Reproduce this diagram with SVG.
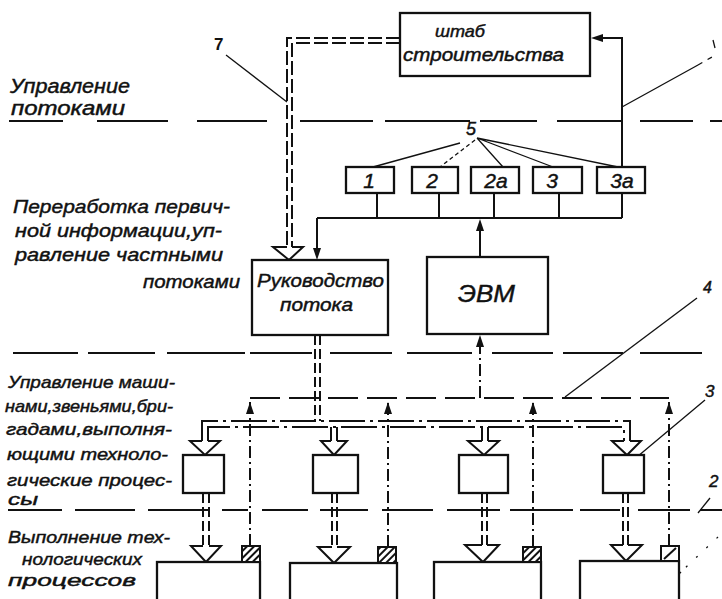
<svg xmlns="http://www.w3.org/2000/svg" xmlns:xlink="http://www.w3.org/1999/xlink" width="722" height="599" viewBox="0 0 722 599">
<style>
.t{font-family:"Liberation Sans","DejaVu Sans",sans-serif;font-style:italic;fill:#111;stroke:#111;stroke-width:0.45}
.box{fill:#fff;stroke:#111;stroke-width:2.3}
.ln{fill:none;stroke:#111;stroke-width:2}
.thin{fill:none;stroke:#111;stroke-width:1.3}
.sep{fill:none;stroke:#111;stroke-width:2.2}
.dd{stroke-dasharray:14 4}
.sig{stroke-dasharray:12 4 2 4}
.bus4{stroke-dasharray:30 9}
.dbus{stroke-dasharray:36 5 3 5}
.sh{stroke-dasharray:10 4}
.head{fill:#fff;stroke:#111;stroke-width:2;stroke-linejoin:miter}
.ah{fill:#111}
</style>
<defs>
<path id="ah" d="M0,0 L-4,12 L4,12 Z"/>
<pattern id="hatch" width="5" height="5" patternUnits="userSpaceOnUse" patternTransform="rotate(45)">
<rect width="5" height="5" fill="#fff"/>
<line x1="1" y1="0" x2="1" y2="5" stroke="#111" stroke-width="2"/>
</pattern>
</defs>
<rect width="722" height="599" fill="#fff"/>

<g id="separators">
<line class="sep" x1="9" y1="121" x2="722" y2="121" stroke-dasharray="54 34 71 29 70 33 73 12 85 10 57 20 66 17 53 17 20"/>
<line class="sep" x1="13" y1="353" x2="705" y2="353" stroke-dasharray="65 10 67 12 78 5 62 18 62 15 65 20 61 10 60 17 62"/>
<line class="sep" x1="8" y1="510" x2="722" y2="510" stroke-dasharray="54 13 60 13 62 12 26 14 46 12 48 14 51 14 53 10 63 7 40 18 52 10 22"/>
</g>

<g id="level-labels">
<text class="t" x="10" y="93" font-size="20" textLength="120" lengthAdjust="spacingAndGlyphs">Управление</text>
<text class="t" x="11" y="115" font-size="20" textLength="114" lengthAdjust="spacingAndGlyphs">потоками</text>
<text class="t" x="13" y="213" font-size="19" textLength="217" lengthAdjust="spacingAndGlyphs">Переработка первич-</text>
<text class="t" x="15" y="237" font-size="19" textLength="207" lengthAdjust="spacingAndGlyphs">ной информации,уп-</text>
<text class="t" x="15" y="261" font-size="19" textLength="208" lengthAdjust="spacingAndGlyphs">равление частными</text>
<text class="t" x="143" y="288" font-size="19" textLength="97" lengthAdjust="spacingAndGlyphs">потоками</text>
<text class="t" x="8" y="388" font-size="17" textLength="167" lengthAdjust="spacingAndGlyphs">Управление маши-</text>
<text class="t" x="5" y="412" font-size="17" textLength="168" lengthAdjust="spacingAndGlyphs">нами,звеньями,бри-</text>
<text class="t" x="6" y="435" font-size="17" textLength="166" lengthAdjust="spacingAndGlyphs">гадами,выполня-</text>
<text class="t" x="7" y="460" font-size="17" textLength="161" lengthAdjust="spacingAndGlyphs">ющими техноло-</text>
<text class="t" x="7" y="486" font-size="17" textLength="165" lengthAdjust="spacingAndGlyphs">гические процес-</text>
<text class="t" x="8" y="505" font-size="17" textLength="30" lengthAdjust="spacingAndGlyphs">сы</text>
<text class="t" x="8" y="543" font-size="17" textLength="162" lengthAdjust="spacingAndGlyphs">Выполнение тех-</text>
<text class="t" x="22" y="565" font-size="17" textLength="120" lengthAdjust="spacingAndGlyphs">нологических</text>
<text class="t" x="8" y="586" font-size="17" textLength="128" lengthAdjust="spacingAndGlyphs">процессов</text>
</g>

<g id="connectors">
<path class="ln" d="M622,167 V38 H594"/>
<use href="#ah" class="ah" transform="translate(591,38) rotate(-90)"/>
<path class="ln" d="M377,193 V218 M439,193 V218 M494,193 V218 M559,193 V218 M622,193 V218 M317,218 H622 M317,218 V250"/>
<use href="#ah" class="ah" transform="translate(317,260) rotate(180)"/>
<path class="ln" d="M480,257 V228"/>
<use href="#ah" class="ah" transform="translate(480,219)"/>
<path class="ln dd" d="M400,38 H287 V247"/>
<path class="ln dd" d="M400,43 H292 V247"/>
<path class="head" d="M287,247 H273 L289,260 L303,247 H292"/>
<path class="ln sig" d="M480,398 V344"/>
<use href="#ah" class="ah" transform="translate(480,335)"/>
<path class="ln sh" d="M315,335 V421"/>
<path class="ln sh" d="M320,335 V421"/>
<path class="ln bus4" d="M250,398 H669"/>
<path class="ln sig" d="M250,546 V398 M388,547 V398 M533,547 V398 M669,546 V398"/>
<use href="#ah" class="ah" transform="translate(250,402)"/>
<use href="#ah" class="ah" transform="translate(388,402)"/>
<use href="#ah" class="ah" transform="translate(533,402)"/>
<use href="#ah" class="ah" transform="translate(669,402)"/>
<path class="ln dbus" d="M202,441 V421 H630 V441"/>
<path class="ln dbus" d="M208,441 V427 H624 V441"/>
<path class="ln" d="M331,427 V441 M337,427 V441 M482,427 V441 M488,427 V441"/>
<path class="head" d="M202,441 H190 L205,455 L220,441 H208"/>
<path class="head" d="M331,441 H321 L334,455 L347,441 H337"/>
<path class="head" d="M482,441 H468 L484,455 L499,441 H488"/>
<path class="head" d="M624,441 H612 L627,455 L641,441 H630"/>
<path class="ln sh" d="M203,493 V546 M209,493 V546 M332,493 V547 M337,493 V547 M482,493 V545 M487,493 V545 M623,493 V545 M628,493 V545"/>
<path class="head" d="M203,546 H191 L206,562 L221,546 H209"/>
<path class="head" d="M332,547 H318 L334,563 L350,547 H337"/>
<path class="head" d="M482,545 H465 L483,562 L499,545 H487"/>
<path class="head" d="M623,545 H611 L626,561 L642,545 H628"/>
<path class="thin" stroke-width="1.8" d="M226,55 L287,102"/>
<path class="thin" d="M460,143 L373,167 M477,138 L503,167 M477,138 L553,167 M477,138 L618,167"/>
<path class="thin" stroke-dasharray="4 3" d="M475,140 L440,167"/>
<path class="thin" d="M622,107 L698,65"/>
<path class="thin" stroke-dasharray="5 6" d="M698,65 L712,57"/>
<path class="thin" d="M713,40 L715,48"/>
<path class="thin" d="M697,298 L565,397"/>
<path class="thin" d="M705,400 L625,467"/>
<path class="thin" d="M710,498 L698,513"/>
<path class="thin" d="M681,572 L668,585"/>
<path class="thin" stroke-dasharray="2 12" d="M718,537 L684,569"/>
</g>

<g id="shtab">
<rect class="box" x="400" y="13" width="190" height="63"/>
<text class="t" x="435" y="37" font-size="17" textLength="50" lengthAdjust="spacingAndGlyphs">штаб</text>
<text class="t" x="403" y="61" font-size="18" textLength="161" lengthAdjust="spacingAndGlyphs">строительства</text>
</g>

<g id="box-1"><rect class="box" x="346" y="167" width="48" height="26"/><text class="t" x="369" y="188" font-size="21" text-anchor="middle">1</text></g>
<g id="box-2"><rect class="box" x="412" y="167" width="46" height="26"/><text class="t" x="432" y="188" font-size="21" text-anchor="middle">2</text></g>
<g id="box-2a"><rect class="box" x="471" y="167" width="48" height="26"/><text class="t" x="496" y="188" font-size="21" text-anchor="middle">2а</text></g>
<g id="box-3"><rect class="box" x="533" y="167" width="49" height="26"/><text class="t" x="552" y="188" font-size="21" text-anchor="middle">3</text></g>
<g id="box-3a"><rect class="box" x="597" y="167" width="48" height="26"/><text class="t" x="622" y="188" font-size="21" text-anchor="middle">3а</text></g>

<g id="rukovodstvo">
<rect class="box" x="252" y="260" width="136" height="75"/>
<text class="t" x="257" y="287" font-size="19" textLength="127" lengthAdjust="spacingAndGlyphs">Руководство</text>
<text class="t" x="280" y="311" font-size="19" textLength="73" lengthAdjust="spacingAndGlyphs">потока</text>
</g>

<g id="evm">
<rect class="box" x="427" y="257" width="121" height="77"/>
<text class="t" x="458" y="302" font-size="24" textLength="57" lengthAdjust="spacingAndGlyphs">ЭВМ</text>
</g>

<g id="crew-1"><rect class="box" x="183" y="455" width="41" height="38"/></g>
<g id="crew-2"><rect class="box" x="313" y="455" width="45" height="38"/></g>
<g id="crew-3"><rect class="box" x="459" y="455" width="49" height="38"/></g>
<g id="crew-4"><rect class="box" x="603" y="455" width="41" height="38"/></g>

<g id="process-1"><rect class="box" x="157" y="562" width="103" height="50"/><rect x="242" y="546" width="18" height="16" fill="url(#hatch)" stroke="#111" stroke-width="2"/></g>
<g id="process-2"><rect class="box" x="290" y="563" width="107" height="50"/><rect x="378" y="547" width="18" height="16" fill="url(#hatch)" stroke="#111" stroke-width="2"/></g>
<g id="process-3"><rect class="box" x="434" y="562" width="107" height="50"/><rect x="523" y="547" width="18" height="15" fill="url(#hatch)" stroke="#111" stroke-width="2"/></g>
<g id="process-4"><rect class="box" x="580" y="561" width="99" height="50"/><rect x="661" y="546" width="18" height="15" fill="#fff" stroke="#111" stroke-width="2"/><line x1="664" y1="559" x2="676" y2="548" stroke="#111" stroke-width="2"/></g>

<g id="number-labels">
<text x="214" y="50" font-family="Liberation Sans, sans-serif" font-weight="bold" font-size="17" fill="#111">7</text>
<text class="t" x="466" y="135" font-size="18">5</text>
<text class="t" x="703" y="293" font-size="16">4</text>
<text class="t" x="705" y="397" font-size="17">3</text>
<text class="t" x="709" y="487" font-size="17">2</text>
</g>
</svg>
